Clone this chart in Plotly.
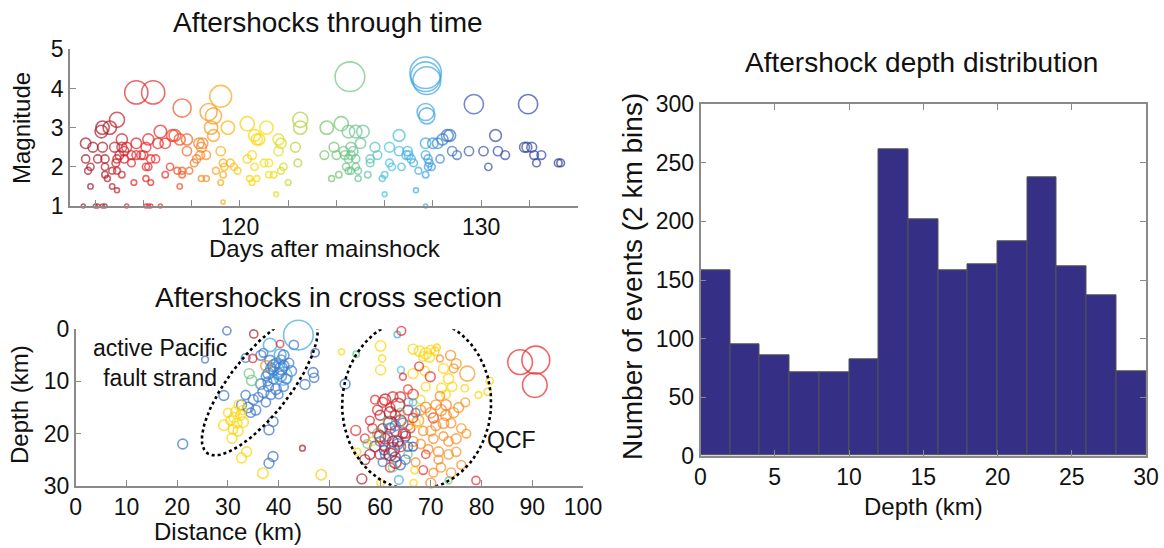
import numpy as np
import plotly.graph_objects as go

W, H = 1164, 548

# ---------------- Data: aftershocks through time ----------------
time_day = [
    113.6, 113.9, 114.3, 113.6, 113.8, 113.7, 113.8, 114.1, 114.4, 114.4, 114.3, 114.25, 114.6, 114.9,
    114.4, 114.5, 114.7, 114.9, 114.8, 114.9, 114.85, 114.7, 114.9, 115.1, 115.1, 115.2, 115.0, 115.2, 115.1, 115.3,
    115.5, 115.7, 115.9, 115.5, 115.6, 115.7, 116.1, 116.1, 116.2, 116.1, 116.3, 115.7, 116.4, 116.2, 116.5, 116.6,
    116.7, 116.9, 117.2, 117.3, 117.1, 116.9, 117.5, 117.4, 117.6, 117.6, 117.5, 117.8, 117.8, 117.6, 117.9, 116.0, 116.3,
    118.1, 118.2, 118.3, 118.45, 118.4, 118.35, 118.6, 118.4, 118.6, 118.7, 118.9, 118.8, 118.9, 119.2, 119.2, 119.3,
    119.0, 119.35, 119.3, 119.2, 119.3, 119.5, 119.6, 119.75, 119.9,
    120.3, 120.3, 120.5, 120.6, 120.4, 120.5, 120.7, 120.6, 120.7, 120.8, 121.1, 121.0, 121.2, 121.2, 121.4,
    121.5, 121.6, 121.7, 121.6, 121.8, 121.7, 122.0, 122.3, 122.4, 122.5, 122.5,
    123.6, 124.2, 124.5, 124.8, 125.1, 123.9, 123.5, 124.0, 124.3, 124.35, 124.6, 124.6, 124.7, 124.5, 124.8, 125.0,
    125.4, 125.6, 125.7, 125.4, 124.4, 124.5, 124.8, 124.6, 124.9, 125.3, 123.8, 124.1, 124.9, 124.56,
    126.2, 126.6, 125.9, 126.0, 126.2, 126.3, 126.7, 126.6, 126.9, 126.95, 127.0, 127.1, 127.2, 127.4, 126.0, 127.3,
    127.7, 127.7, 127.75, 127.7, 127.75, 127.7, 127.7, 127.8, 127.7, 127.8, 127.95, 127.85, 128.0, 128.2, 128.3,
    128.4, 128.6, 128.7, 127.7,
    128.8, 129.0, 129.7, 129.5, 130.1, 130.3, 130.6, 130.7, 131.0, 131.95, 131.8, 131.9, 132.1, 132.2, 132.3, 132.5,
    133.2, 133.3,
    113.5, 114.0, 114.1, 114.3, 114.4, 115.3, 116.1, 116.2, 116.3, 116.7,
]
time_mag = [
    2.6, 2.5, 2.5, 2.2, 2.0, 1.9, 1.5, 2.2, 2.2, 2.0, 3.0, 2.9, 3.0, 3.2,
    1.8, 1.7, 1.5, 1.4, 2.5, 2.2, 2.1, 1.9, 1.9, 2.7, 2.5, 2.4, 2.3, 2.2, 1.8, 2.5,
    2.3, 2.3, 2.3, 2.1, 1.6, 2.6, 2.5, 2.0, 2.0, 1.7, 1.6, 3.9, 3.9, 2.7, 2.2, 2.6,
    2.9, 2.6, 2.8, 2.8, 2.0, 1.8, 1.5, 1.9, 1.8, 3.5, 2.7, 2.7, 2.4, 1.9, 1.9, 2.3, 2.2,
    2.1, 2.2, 2.6, 2.6, 2.5, 2.3, 2.3, 1.7, 1.7, 3.4, 3.3, 3.0, 2.8, 3.8, 2.4, 2.1,
    1.9, 2.0, 1.8, 1.6, 1.1, 3.0, 2.1, 2.0, 1.9,
    3.1, 2.2, 2.3, 2.0, 1.7, 1.6, 1.7, 2.8, 2.7, 2.7, 3.0, 2.1, 2.1, 1.8, 1.8,
    1.3, 2.7, 2.6, 2.4, 2.0, 1.9, 1.6, 2.5, 2.1, 3.2, 3.0,
    3.0, 3.1, 2.9, 2.9, 2.9, 2.5, 2.3, 2.3, 2.4, 2.3, 2.5, 2.3, 2.4, 2.2, 2.2, 2.6,
    2.2, 2.5, 2.3, 2.1, 2.0, 1.9, 2.0, 1.9, 1.9, 1.8, 1.7, 1.8, 1.7, 4.3,
    2.5, 2.8, 1.7, 1.8, 2.1, 2.0, 2.0, 2.4, 2.3, 2.4, 2.3, 2.2, 2.1, 1.9, 1.3, 1.4,
    4.4, 4.3, 4.2, 3.4, 3.3, 2.6, 2.3, 2.2, 1.8, 2.0, 2.0, 2.1, 2.6, 2.6, 2.2,
    2.7, 2.8, 2.8, 1.0,
    2.4, 2.3, 3.6, 2.4, 2.4, 2.0, 2.8, 2.4, 2.3, 3.6, 2.5, 2.5, 2.5, 2.3, 2.1, 2.3,
    2.1, 2.1,
    1.0, 1.0, 1.0, 1.0, 1.0, 1.0, 1.0, 1.0, 1.0, 1.0,
]

# ---------------- Data: aftershocks in cross section ----------------
# distance (km), depth (km), magnitude, day after mainshock
xs_dist = [
    29.8, 25.5, 47.2, 33.5, 36.5, 38.3, 39.5, 40.5, 41.0, 42.0, 42.5, 40.0, 39.0, 37.5, 36.5, 38.0, 37.0, 38.5, 36.0, 35.0,
    39.5, 41.5, 41.0, 40.0, 37.5, 34.0, 32.7, 33.5, 34.5, 35.5, 46.8, 47.0, 45.2, 29.2, 38.9, 38.1, 38.9, 38.1, 21.1, 43.0,
    37.0, 38.5, 39.0, 40.5, 37.8,
    43.9, 38.3, 40.3, 40.9, 39.5, 63.4, 64.1, 65.6,
    35.1, 34.9, 40.3, 44.7, 37.5, 34.2, 34.7,
    31.2, 32.2, 31.5, 32.5, 33.0, 30.5, 31.8, 32.8, 30.0, 29.2, 30.8, 33.7, 32.7, 36.9, 48.4, 31.0, 32.0,
    64.2, 60.1, 60.4, 60.1, 55.3, 52.4, 53.1, 64.5,
    66.5, 67.8, 69.0, 70.0, 70.8, 68.5, 69.7, 71.2,
    71.8, 73.9, 75.0, 77.2, 74.5,
    72.5, 73.5, 72.1, 74.2, 73.0, 81.6, 81.2, 79.4, 76.7, 66.5, 68.8, 69.0,
    67.7, 69.9, 87.6, 90.7, 90.5,
    61.0, 63.5, 60.0, 62.0, 64.0, 61.0, 62.5, 59.0, 57.0, 63.0, 56.4, 64.5, 60.5,
    59.5, 62.0, 64.0, 65.5, 58.0, 63.0, 61.5, 66.0, 60.0, 64.0, 62.0, 55.2, 57.0, 78.9, 69.0, 68.5, 70.5, 66.5, 65.5,
    70.0, 72.0, 73.0, 71.0, 74.0, 70.5, 72.5, 75.0, 68.5, 69.5, 71.5, 73.5, 76.0, 75.5, 72.0, 74.0, 70.0, 76.0, 67.5,
    66.5, 65.5, 73.0, 71.8, 76.8, 68.0,
    58.5, 66.8, 60.1, 66.6, 55.5, 68.0, 67.0,
    59.5, 61.5, 64.0, 62.5, 57.5, 65.5, 73.5,
    62.0, 64.5, 63.5, 61.0, 65.5, 67.0, 60.5, 64.0,
    62.5, 65.0, 63.0, 66.5, 60.8,
    63.7, 66.5,
    69.0, 71.0, 74.5, 72.5, 70.0, 73.5, 71.5, 75.0, 68.0, 77.0, 70.5, 67.0,
    60.5, 62.5, 63.0, 58.5, 61.0, 65.0, 59.0, 66.5,
    62.0, 60.0, 63.5, 62.0, 58.0,
    63.0, 60.0, 65.0,
    39.0, 40.5, 38.0, 41.0,
]
xs_depth = [
    0.3, 5.8, 4.5, 5.5, 5.0, 6.0, 6.5, 5.8, 7.0, 6.5, 8.0, 8.5, 9.5, 9.0, 10.5, 11.0, 12.0, 12.5, 13.0, 13.5,
    11.5, 9.5, 11.0, 12.5, 14.0, 15.0, 14.5, 12.6, 16.0, 15.5, 8.3, 9.3, 10.6, 12.7, 17.7, 19.3, 24.4, 25.7, 22.0, 3.0,
    4.5, 7.5, 8.0, 9.0, 10.0,
    1.1, 3.0, 4.9, 9.0, 7.8, 1.0, 7.8, 14.0,
    0.9, 5.6, 2.8, 22.8, 7.0, 8.5, 9.8,
    16.9, 14.5, 15.8, 16.5, 17.8, 17.5, 18.0, 15.5, 16.0, 18.4, 20.9, 23.5, 24.7, 27.6, 27.9, 19.2, 19.5,
    0.3, 3.2, 5.6, 7.8, 4.8, 4.3, 10.5, 9.1,
    3.8, 4.2, 4.6, 3.9, 4.2, 5.2, 5.3, 3.5,
    5.6, 5.0, 6.6, 8.5, 7.5,
    7.5, 9.5, 11.3, 11.0, 12.5, 9.9, 12.0, 12.6, 11.3, 8.5, 8.0, 11.0,
    7.1, 9.1, 6.3, 5.9, 10.7,
    13.5, 14.5, 16.5, 18.0, 17.5, 21.0, 23.0, 22.5, 25.0, 25.5, 28.7, 20.0, 19.0,
    15.5, 15.0, 13.0, 15.5, 17.5, 19.5, 20.5, 19.0, 24.0, 22.5, 26.5, 19.4, 20.9, 29.0, 24.0, 27.0, 17.0, 12.5, 11.5,
    16.0, 15.5, 16.5, 18.5, 18.0, 21.0, 20.5, 21.0, 19.5, 23.0, 23.5, 24.0, 19.0, 15.0, 26.5, 27.5, 29.5, 26.0, 17.5,
    21.5, 18.5, 14.5, 12.8, 14.0, 15.5,
    21.5, 27.0, 29.5, 29.5, 23.5, 13.5, 18.0,
    20.0, 17.5, 16.0, 26.5, 22.0, 24.0, 29.0,
    19.0, 18.0, 22.0, 24.0, 22.5, 16.0, 25.5, 26.0,
    21.5, 20.5, 24.5, 22.5, 23.2,
    28.9, 14.0,
    15.0, 14.5, 16.0, 18.0, 19.5, 21.5, 25.0, 23.5, 22.0, 20.0, 27.5, 25.5,
    14.0, 13.0, 16.5, 19.0, 22.5, 20.0, 13.5, 17.0,
    16.0, 20.5, 21.5, 24.0, 24.0,
    18.5, 21.5, 25.0,
    7.0, 7.5, 8.5, 5.0,
]
xs_mag = [
    2.2, 1.9, 2.2, 2.3, 2.5, 2.6, 2.5, 2.4, 2.6, 2.5, 2.6, 2.7, 2.5, 2.4, 2.6, 2.5, 2.7, 2.5, 2.4, 2.5,
    2.6, 2.5, 2.4, 2.3, 2.4, 2.6, 2.5, 2.4, 2.4, 2.5, 2.5, 2.4, 2.5, 2.5, 2.5, 2.5, 2.5, 2.5, 2.5, 2.4,
    2.3, 2.6, 2.4, 2.6, 2.3,
    4.3, 3.0, 2.8, 3.5, 3.3, 1.8, 1.9, 2.2,
    2.2, 2.2, 2.0, 1.6, 2.6, 2.5, 2.6,
    2.5, 2.5, 2.4, 2.5, 2.6, 2.4, 2.5, 2.3, 2.3, 2.6, 2.5, 2.5, 2.5, 2.6, 2.6, 2.4, 2.5,
    2.3, 2.6, 2.0, 2.5, 1.8, 1.7, 2.5, 1.9,
    2.5, 2.6, 2.7, 2.3, 2.2, 2.4, 2.6, 1.9,
    1.9, 2.5, 2.5, 3.2, 2.3,
    2.5, 2.6, 2.5, 2.4, 2.3, 2.0, 2.0, 1.9, 2.0, 2.5, 2.4, 2.3,
    2.3, 2.5, 4.0, 4.2, 4.0,
    2.7, 3.0, 2.5, 3.0, 2.7, 2.6, 3.0, 2.6, 2.5, 2.8, 2.5, 2.4, 2.4,
    2.5, 2.4, 2.6, 2.5, 2.3, 2.5, 2.4, 2.3, 2.5, 2.6, 2.4, 2.5, 2.3, 2.2, 2.2, 2.3, 2.5, 2.6, 2.3,
    2.6, 2.7, 2.6, 2.5, 2.4, 2.4, 2.3, 2.5, 2.4, 2.4, 2.5, 2.4, 2.4, 2.5, 2.4, 2.4, 2.5, 2.3, 2.7,
    2.5, 2.4, 2.6, 2.4, 2.3, 2.5,
    2.2, 2.0, 2.0, 2.0, 2.0, 2.3, 2.4,
    2.5, 2.3, 2.3, 2.3, 2.3, 2.2, 1.9,
    2.6, 2.5, 2.6, 2.4, 2.4, 2.3, 2.3, 2.5,
    2.6, 2.5, 2.5, 2.3, 2.4,
    2.3, 2.0,
    2.6, 2.5, 2.5, 2.6, 2.5, 2.4, 2.3, 2.4, 2.4, 2.3, 2.3, 2.3,
    2.5, 2.6, 2.5, 2.4, 2.5, 2.4, 2.3, 2.4,
    2.8, 2.7, 2.6, 2.9, 2.5,
    2.5, 2.4, 2.4,
    2.8, 2.9, 2.7, 2.6,
]
xs_day = [
    129.0, 129.0, 130.0, 128.5, 128.5, 128.5, 128.5, 128.5, 128.4, 128.5, 128.5, 128.5, 128.5, 128.5, 128.5, 128.5,
    128.5, 128.5, 128.5, 128.5, 128.5, 128.5, 128.6, 128.6, 128.6, 128.6, 128.6, 128.6, 128.6, 128.6, 128.8, 128.8,
    128.8, 128.8, 128.8, 128.8, 128.8, 128.8, 128.8, 128.5, 128.8, 128.5, 128.4, 128.4, 128.4,
    127.7, 127.7, 127.7, 127.7, 127.7, 127.5, 126.5, 126.5,
    114.0, 116.0, 116.0, 114.0, 118.5, 124.0, 124.5,
    120.5, 120.5, 120.5, 120.5, 120.5, 120.5, 120.5, 120.5, 120.5, 120.5, 120.5, 120.5, 120.5, 120.5, 120.2, 120.5, 120.3,
    116.0, 120.5, 120.5, 120.5, 124.5, 120.5, 128.8, 116.0,
    120.5, 120.3, 120.8, 120.5, 120.3, 121.5, 120.5, 120.3,
    118.5, 118.5, 118.8, 118.8, 118.5,
    120.5, 120.5, 120.5, 120.5, 121.0, 120.5, 120.3, 120.5, 120.5, 120.5, 121.0, 120.5,
    116.0, 116.0, 116.0, 115.7, 116.3,
    114.0, 114.0, 114.0, 113.8, 114.3, 114.0, 114.5, 114.0, 114.2, 114.5, 114.0, 114.5, 113.9,
    116.0, 116.0, 116.2, 116.5, 116.0, 116.0, 116.5, 116.8, 116.0, 116.4, 116.0, 116.0, 116.0, 116.5, 116.5, 116.2,
    116.8, 116.8, 117.3,
    118.5, 118.5, 118.6, 118.5, 118.5, 118.5, 118.5, 118.6, 118.5, 118.4, 118.5, 118.6, 118.8, 118.5, 118.6, 118.6,
    118.5, 118.5, 118.8, 118.5, 118.6, 118.4, 118.4, 118.8, 118.5,
    120.5, 120.5, 120.5, 120.5, 120.8, 121.5, 120.5,
    124.0, 124.5, 124.0, 124.5, 124.5, 124.3, 124.5,
    128.5, 128.6, 128.7, 128.5, 128.6, 128.7, 128.5, 129.0,
    130.5, 131.0, 130.8, 131.5, 131.0,
    127.5, 126.5,
    118.5, 118.6, 118.5, 118.5, 118.6, 118.5, 118.5, 118.7, 118.5, 118.6, 118.5, 118.4,
    116.0, 116.3, 116.0, 116.2, 116.0, 116.5, 116.6, 116.4,
    114.0, 114.2, 114.0, 114.3, 114.0,
    128.5, 128.6, 128.6,
    128.5, 128.5, 128.4, 128.5,
]

# ---------------- Data: depth histogram ----------------
depth_bin_centers = [1, 3, 5, 7, 9, 11, 13, 15, 17, 19, 21, 23, 25, 27, 29]
depth_counts = [158, 95, 86, 71, 71, 82, 262, 202, 158, 163, 183, 238, 162, 137, 72]

# ---------------- Styling helpers ----------------
FONT = "Liberation Sans, Arial, sans-serif"
AXIS_GRAY = "#8a8a8a"
DAY_MIN, DAY_MAX = 113.0, 134.0


def nrm(d):
    return (d - DAY_MIN) / (DAY_MAX - DAY_MIN)


time_colorscale = [
    [nrm(113.0), "rgb(150,28,45)"],
    [nrm(114.6), "rgb(175,30,42)"],
    [nrm(115.5), "rgb(225,35,42)"],
    [nrm(117.0), "rgb(236,45,40)"],
    [nrm(117.9), "rgb(243,105,35)"],
    [nrm(118.7), "rgb(247,148,29)"],
    [nrm(119.8), "rgb(252,192,20)"],
    [nrm(120.5), "rgb(255,212,0)"],
    [nrm(121.3), "rgb(240,225,20)"],
    [nrm(122.3), "rgb(185,212,55)"],
    [nrm(123.5), "rgb(120,195,100)"],
    [nrm(125.0), "rgb(105,195,150)"],
    [nrm(126.2), "rgb(70,195,225)"],
    [nrm(127.7), "rgb(60,165,225)"],
    [nrm(128.5), "rgb(60,120,200)"],
    [nrm(130.0), "rgb(55,80,170)"],
    [nrm(134.0), "rgb(40,55,150)"],
]


def mag_to_size(m):
    return 7.2 * 1.85 ** (np.asarray(m, dtype=float) - 2.0)


def px(x):
    return x / W


def py(y):
    return 1 - y / H


fig = go.Figure()

# Aftershocks through time
fig.add_trace(go.Scatter(
    x=time_day, y=time_mag, mode="markers", xaxis="x", yaxis="y", cliponaxis=False,
    marker=dict(symbol="circle-open", size=mag_to_size(time_mag), color=time_day,
                colorscale=time_colorscale, cmin=DAY_MIN, cmax=DAY_MAX, line=dict(width=1.6)),
    showlegend=False, hoverinfo="skip",
))

# Cross section
fig.add_trace(go.Scatter(
    x=xs_dist, y=xs_depth, mode="markers", xaxis="x2", yaxis="y2", cliponaxis=False,
    marker=dict(symbol="circle-open", size=mag_to_size(xs_mag), color=xs_day,
                colorscale=time_colorscale, cmin=DAY_MIN, cmax=DAY_MAX, line=dict(width=1.6)),
    showlegend=False, hoverinfo="skip",
))

# Dotted ellipses (drawn in screen-pixel geometry, converted to data units)
KX = (583.0 - 75.7) / 100.0   # px per km (distance)
KY = (485.7 - 329.3) / 30.0   # px per km (depth)


def ellipse(cx, cy, a_px, b_px, ang_deg):
    t = np.linspace(0, 2 * np.pi, 200)
    th = np.deg2rad(ang_deg)
    u, v = a_px * np.cos(t), b_px * np.sin(t)
    X = u * np.cos(th) - v * np.sin(th)
    Y = u * np.sin(th) + v * np.cos(th)
    return cx + X / KX, cy - Y / KY


for (cx, cy, a, b, ang) in [(36.3, 10.7, 86.0, 30.0, 52.0), (67.2, 14.3, 86.0, 74.5, 87.0)]:
    ex, ey = ellipse(cx, cy, a, b, ang)
    fig.add_trace(go.Scatter(x=ex, y=ey, mode="lines", xaxis="x2", yaxis="y2", cliponaxis=False,
                             line=dict(color="black", width=2.6, dash="dot"),
                             showlegend=False, hoverinfo="skip"))

# Histogram
fig.add_trace(go.Bar(
    x=depth_bin_centers, y=depth_counts, width=2, xaxis="x3", yaxis="y3",
    marker=dict(color="#352F85", line=dict(color="#555555", width=1)),
    showlegend=False, hoverinfo="skip",
))

tickfont = dict(family=FONT, size=23, color="#111111")
common = dict(showline=True, linecolor=AXIS_GRAY, linewidth=1.5, ticks="inside", ticklen=6,
              tickcolor=AXIS_GRAY, tickwidth=1.3, showgrid=False, zeroline=False, tickfont=tickfont,
              automargin=False)

fig.update_layout(
    width=W, height=H, autosize=False,
    margin=dict(l=0, r=0, t=0, b=0, pad=0),
    paper_bgcolor="white", plot_bgcolor="rgba(0,0,0,0)",
    font=dict(family=FONT, color="#111111"),
    xaxis=dict(domain=[px(70), px(578)], anchor="y", range=[112.95, 134.02],
               tickvals=list(range(114, 135, 2)),
               ticktext=["" if v not in (120, 130) else str(v) for v in range(114, 135, 2)], **common),
    yaxis=dict(domain=[py(206), py(49.3)], anchor="x", range=[1, 5], tickvals=[1, 2, 3, 4, 5], **common),
    xaxis2=dict(domain=[px(75.7), px(583)], anchor="y2", range=[0, 100], tickvals=list(range(0, 101, 10)), **common),
    yaxis2=dict(domain=[py(485.7), py(329.3)], anchor="x2", range=[30, 0], tickvals=[0, 10, 20, 30], **common),
    xaxis3=dict(domain=[px(700.5), px(1146)], anchor="y3", range=[0, 30], tickvals=list(range(0, 31, 5)),
                mirror="ticks", **common),
    yaxis3=dict(domain=[py(455.7), py(104.3)], anchor="x3", range=[0, 300], tickvals=list(range(0, 301, 50)),
                mirror="ticks", **common),
    bargap=0,
)


def label(text, x, y, size, angle=0):
    fig.add_annotation(text=text, x=px(x), y=py(y), xref="paper", yref="paper", showarrow=False,
                       xanchor="center", yanchor="middle", textangle=angle,
                       font=dict(family=FONT, size=size, color="#111111"))


label("Aftershocks through time", 328, 22, 28)
label("Magnitude", 22, 128, 24, -90)
label("Days after mainshock", 325, 248, 24)
label("Aftershocks in cross section", 328, 297, 28)
label("Depth (km)", 19, 405, 24, -90)
label("Distance (km)", 228, 531, 24)
label("Aftershock depth distribution", 921, 62, 28)
label("Number of events (2 km bins)", 632, 277, 28, -90)
label("Depth (km)", 923, 506, 24)

fig.add_annotation(text="active Pacific<br>fault strand", x=16.6, y=6.5, xref="x2", yref="y2",
                   showarrow=False, xanchor="center", yanchor="middle", align="center",
                   font=dict(family=FONT, size=23, color="#111111"))
fig.add_annotation(text="QCF", x=86.0, y=21.3, xref="x2", yref="y2", showarrow=False,
                   xanchor="center", yanchor="middle", font=dict(family=FONT, size=23, color="#111111"))

fig.write_html("out.html", config={"displayModeBar": False},
               post_script="document.body.style.margin='0px';document.body.style.overflow='hidden';")
